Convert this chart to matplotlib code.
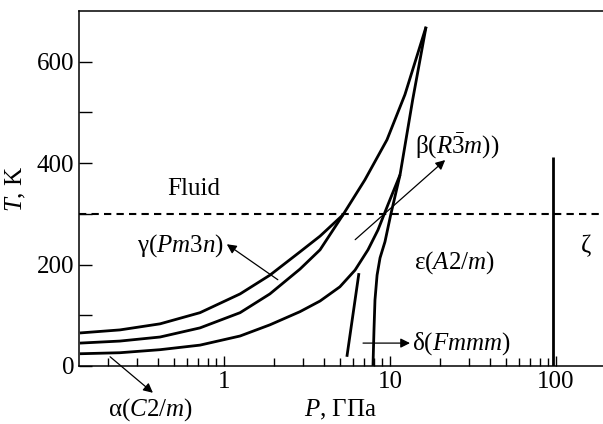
import numpy as np
import matplotlib
matplotlib.use("Agg")
import matplotlib.pyplot as plt
from matplotlib.ticker import LogLocator, NullFormatter, FixedLocator

plt.rcParams['font.family'] = ['Liberation Serif', 'DejaVu Serif']
plt.rcParams['mathtext.fontset'] = 'custom'
plt.rcParams['mathtext.rm'] = 'Liberation Serif'
plt.rcParams['mathtext.it'] = 'Liberation Serif:italic'

# phase boundaries, P in GPa, T in K
melt_P = [0.1355, 0.236, 0.412, 0.717, 1.25, 1.89, 2.87, 3.79, 5.21, 7.06, 9.59, 12.3, 16.5]
melt_T = [65, 71, 83, 105, 142, 179, 225, 256, 298, 367, 446, 535, 669]

gb_P = [0.1355, 0.236, 0.412, 0.717, 1.25, 1.89, 2.87, 3.79, 5.21]
gb_T = [45, 49, 57, 75, 105, 142, 191, 229, 298]

ab_P = [0.1355, 0.236, 0.412, 0.717, 1.25, 1.89, 2.87, 3.79, 4.99, 6.16, 7.37, 8.46, 9.72, 11.5]
ab_T = [24, 26, 32, 41, 59, 81, 107, 128, 156, 189, 229, 268, 318, 377]

eps_P = [7.90, 8.01, 8.12, 8.36, 8.71, 9.33, 10.1, 11.5, 13.7, 16.5]
eps_T = [0, 71, 130, 179, 213, 245, 298, 377, 525, 669]

delta_P = [5.5, 6.5]
delta_T = [18, 183]

zeta_P = [96, 96]
zeta_T = [0, 412]

fluid_T = 300

fig = plt.figure(figsize=(6.03, 4.24), dpi=100)
ax = fig.add_axes([0.131, 0.137, 0.869, 0.837])

lw = 2.0
for p, t in [(melt_P, melt_T), (gb_P, gb_T), (ab_P, ab_T), (eps_P, eps_T),
             (delta_P, delta_T), (zeta_P, zeta_T)]:
    ax.plot(p, t, color='k', lw=lw, solid_capstyle='butt', solid_joinstyle='round')
ax.axhline(fluid_T, color='k', lw=1.5, ls=(0, (3.5, 2.5)))

ax.set_xscale('log')
ax.set_xlim(0.1338, 192)
ax.set_ylim(0, 700)

ax.xaxis.set_major_locator(FixedLocator([1, 10, 100]))
ax.xaxis.set_minor_locator(LogLocator(base=10, subs=np.arange(2, 10)))
ax.xaxis.set_minor_formatter(NullFormatter())
ax.set_xticklabels(['1', '10', '100'])
ax.set_yticks([0, 200, 400, 600])
ax.set_yticks([100, 300, 500], minor=True)
ax.tick_params(which='both', direction='in', labelsize=18, width=1.0)
ax.tick_params(which='major', length=7)
ax.tick_params(which='minor', length=6)
ax.tick_params(axis='y', which='both', length=9)
ax.spines['right'].set_visible(False)
for s in ['left', 'top', 'bottom']:
    ax.spines[s].set_linewidth(1.1)

ax.set_xlabel(r'$P$, ГПа', fontsize=18, labelpad=4)
ax.set_ylabel(r'$T$, K', fontsize=18, labelpad=6)

fs = 18
ax.text(0.66, 349, 'Fluid', fontsize=fs, ha='center', va='center')
ax.text(14.1, 436, r'β($R\bar{3}m$))', fontsize=fs, ha='left', va='center')
ax.text(1.0, 237, r'γ($Pm$3$n$)', fontsize=fs, ha='right', va='center')
ax.text(24.3, 203, r'ε($A$2/$m$)', fontsize=fs, ha='center', va='center')
ax.text(151, 237, 'ζ', fontsize=fs, ha='center', va='center')
ax.text(13.6, 45, r'δ($Fmmm$)', fontsize=fs, ha='left', va='center')
ax.text(0.36, -87, r'α($C$2/$m$)', fontsize=fs, ha='center', va='center', clip_on=False)

arrow = dict(arrowstyle='-|>', lw=0.9, color='k', mutation_scale=14, shrinkA=0, shrinkB=0)
ax.annotate('', xy=(21.5, 406), xytext=(6.17, 249), arrowprops=arrow)
ax.annotate('', xy=(1.04, 240), xytext=(2.11, 170), arrowprops=arrow)
ax.annotate('', xy=(13.2, 45), xytext=(6.88, 45), arrowprops=arrow)
ax.annotate('', xy=(0.373, -53), xytext=(0.206, 18), arrowprops=arrow,
            annotation_clip=False)

fig.savefig('out.png', dpi=100)
